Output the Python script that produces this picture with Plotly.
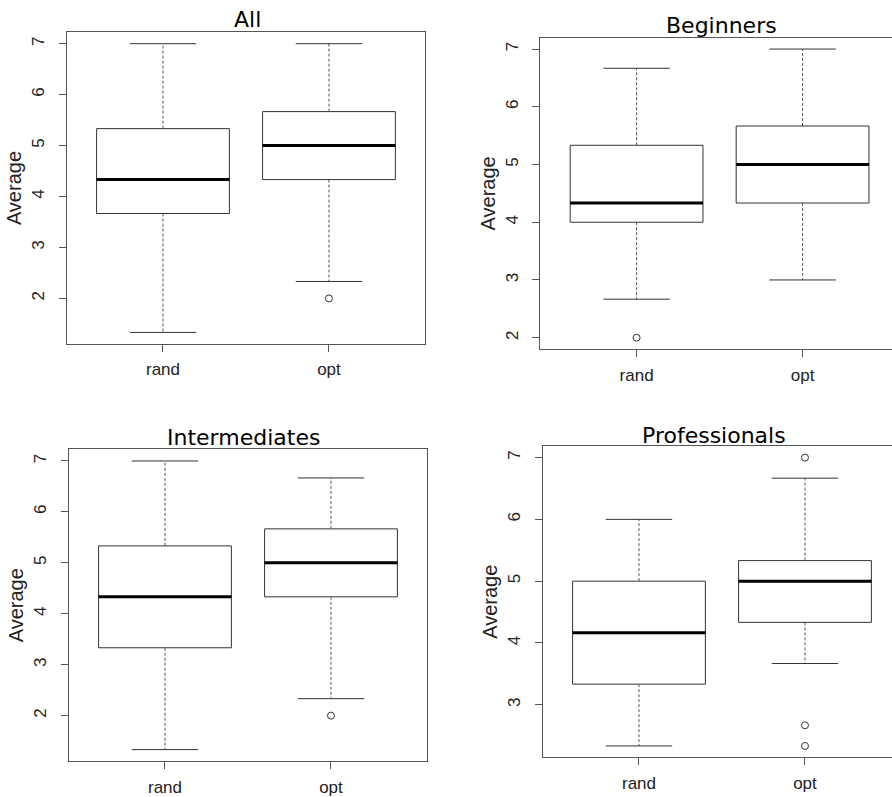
import plotly.graph_objects as go

# ---------------- data ----------------
groups = ["rand", "opt"]
panel_titles = ["All", "Beginners", "Intermediates", "Professionals"]

# per panel: [rand, opt]
whisker_low = [[1.333, 2.333], [2.667, 3.0], [1.333, 2.333], [2.333, 3.667]]
q1_values = [[3.667, 4.333], [4.0, 4.333], [3.333, 4.333], [3.333, 4.333]]
median_values = [[4.333, 5.0], [4.333, 5.0], [4.333, 5.0], [4.167, 5.0]]
q3_values = [[5.333, 5.667], [5.333, 5.667], [5.333, 5.667], [5.0, 5.333]]
whisker_high = [[7.0, 7.0], [6.667, 7.0], [7.0, 6.667], [6.0, 6.667]]
outliers = [[[], [2.0]], [[2.0], []], [[], [2.0]], [[], [7.0, 2.667, 2.333]]]

y_ticks = [[2, 3, 4, 5, 6, 7], [2, 3, 4, 5, 6, 7], [2, 3, 4, 5, 6, 7], [3, 4, 5, 6, 7]]

# ---------------- layout geometry (pixels) ----------------
W, H = 892, 797
# left, right, top, bottom of each plotting frame
frames = [
    (66.7, 424.7, 32.3, 345.7),
    (540.3, 892.0, 37.7, 351.0),
    (68.7, 427.3, 451.7, 765.0),
    (542.7, 892.0, 448.3, 761.3),
]
# title centre x and bottom y (pixels)
title_pos = [(247, 34), (721, 40), (243, 454), (714, 452)]
PX_PER_UNIT_X = 166.0
BOX_HALF = 0.4
CAP_HALF = 0.2
LINE = "#333333"
FRAME = "#555555"
FONT = "Liberation Sans, Arial, sans-serif"
TITLE_FONT = "DejaVu Sans, sans-serif"

fig = go.Figure()
layout = dict(
    width=W, height=H, margin=dict(l=0, r=0, t=0, b=0),
    paper_bgcolor="white", plot_bgcolor="white", showlegend=False,
    annotations=[],
)

for p in range(4):
    ax = "" if p == 0 else str(p + 1)
    xref, yref = "x" + ax, "y" + ax
    for gi, g in enumerate(groups):
        xc = gi + 1
        lo, q1, md, q3, hi = (whisker_low[p][gi], q1_values[p][gi], median_values[p][gi],
                              q3_values[p][gi], whisker_high[p][gi])
        # whiskers (dashed)
        fig.add_trace(go.Scatter(x=[xc, xc, None, xc, xc], y=[q3, hi, None, q1, lo],
                                 mode="lines", line=dict(color="#555555", width=1, dash="3px,2px"),
                                 xaxis=xref, yaxis=yref, hoverinfo="skip"))
        # caps
        fig.add_trace(go.Scatter(x=[xc - CAP_HALF, xc + CAP_HALF, None, xc - CAP_HALF, xc + CAP_HALF],
                                 y=[hi, hi, None, lo, lo], mode="lines",
                                 line=dict(color=LINE, width=1), xaxis=xref, yaxis=yref, hoverinfo="skip"))
        # box
        fig.add_trace(go.Scatter(x=[xc - BOX_HALF, xc + BOX_HALF, xc + BOX_HALF, xc - BOX_HALF, xc - BOX_HALF],
                                 y=[q1, q1, q3, q3, q1], mode="lines", fill="toself", fillcolor="white",
                                 line=dict(color=LINE, width=1), xaxis=xref, yaxis=yref, name=g))
        # median
        fig.add_trace(go.Scatter(x=[xc - BOX_HALF, xc + BOX_HALF], y=[md, md], mode="lines",
                                 line=dict(color="black", width=3), xaxis=xref, yaxis=yref, hoverinfo="skip"))
        # outliers
        if outliers[p][gi]:
            fig.add_trace(go.Scatter(x=[xc] * len(outliers[p][gi]), y=outliers[p][gi], mode="markers",
                                     marker=dict(symbol="circle-open", size=7, color=LINE, line=dict(width=1)),
                                     xaxis=xref, yaxis=yref))

    l, r, t, b = frames[p]
    # y range: R default 4% extension of data range
    all_vals = whisker_low[p] + whisker_high[p] + [v for o in outliers[p] for v in o]
    dmin, dmax = min(all_vals), max(all_vals)
    ext = 0.04 * (dmax - dmin)
    x0 = 0.42
    x1 = x0 + (r - l) / PX_PER_UNIT_X
    right_panel = p in (1, 3)
    layout["xaxis" + ax] = dict(
        domain=[l / W, r / W], range=[x0, x1], anchor=yref,
        tickvals=[1, 2], ticktext=groups, ticks="outside", ticklen=7, tickcolor=FRAME,
        showline=True, linecolor=FRAME, linewidth=1, mirror=True,
        showgrid=False, zeroline=False, ticklabelstandoff=3,
        tickfont=dict(family=FONT, size=17, color="#222222"),
    )
    layout["yaxis" + ax] = dict(
        domain=[1 - b / H, 1 - t / H], range=[dmin - ext, dmax + ext], anchor=xref,
        tickvals=y_ticks[p], ticks="outside", ticklen=7, tickcolor=FRAME, tickangle=-90,
        showline=True, linecolor=FRAME, linewidth=1, mirror=not right_panel,
        showgrid=False, zeroline=False, ticklabelstandoff=8,
        tickfont=dict(family=FONT, size=17, color="#222222"),
        title=dict(text="Average", font=dict(family=FONT, size=20, color="#222222"), standoff=1),
    )
    tx, ty = title_pos[p]
    layout["annotations"].append(dict(
        text=panel_titles[p], xref="paper", yref="paper",
        x=tx / W, y=1 - ty / H, xanchor="center", yanchor="bottom", showarrow=False,
        font=dict(family=TITLE_FONT, size=22, color="black"),
    ))

fig.update_layout(**layout)
fig.write_html("out.html", config={"displayModeBar": False},
               post_script="document.body.style.margin='0';document.body.style.overflow='hidden';")
